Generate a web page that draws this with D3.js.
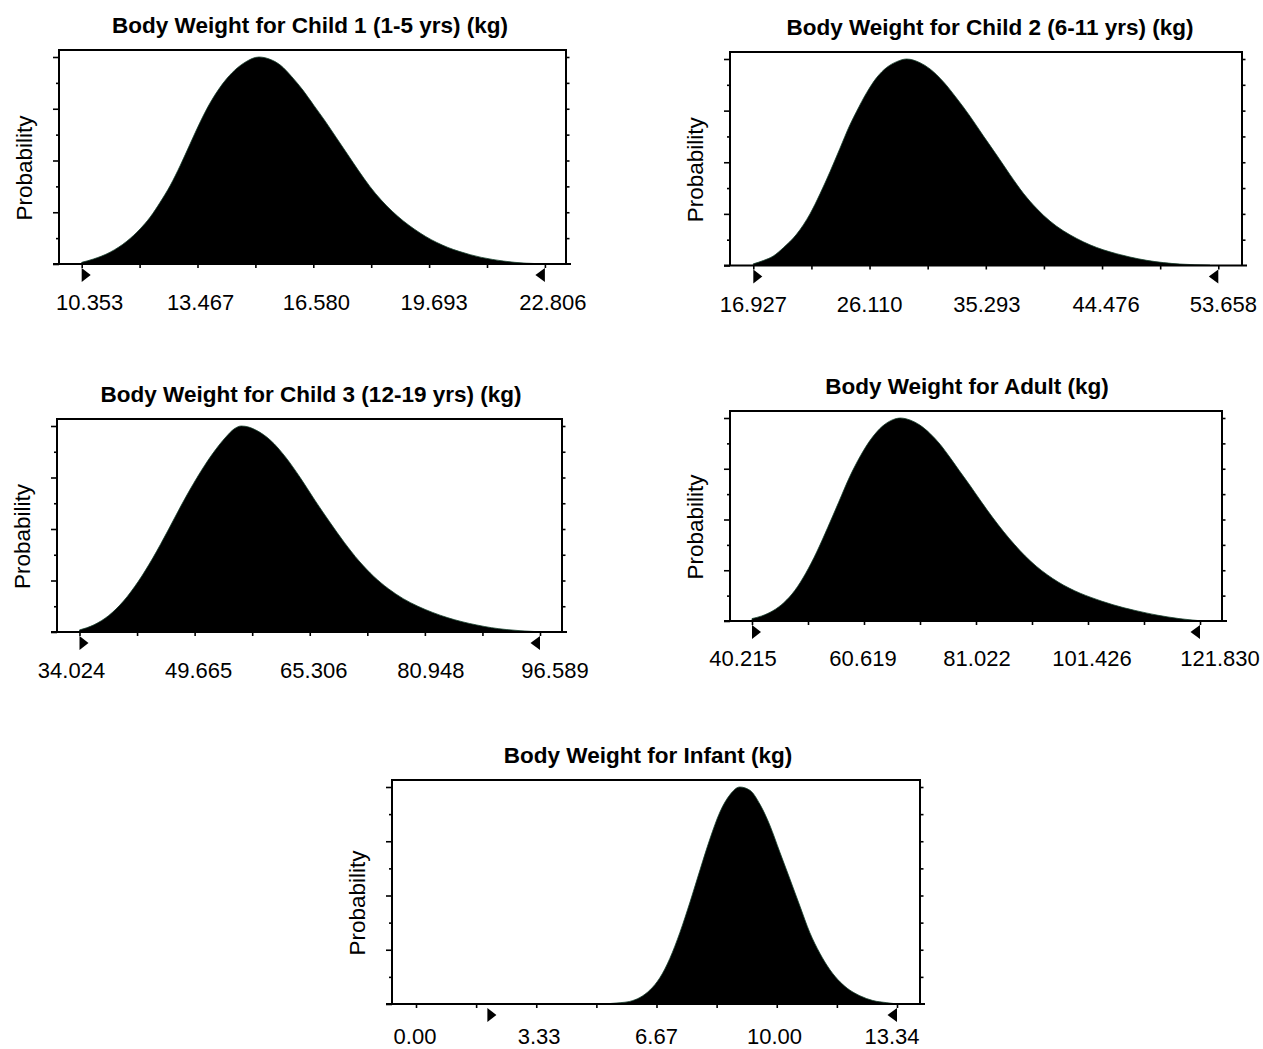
<!DOCTYPE html>
<html><head><meta charset="utf-8">
<script src="https://cdn.jsdelivr.net/npm/d3@7"></script>
<style>
body{margin:0;background:#fff}
svg{display:block}
text{font-family:"Liberation Sans",Arial,Helvetica,sans-serif;fill:#000}
</style>
</head><body>
<svg id="chart" width="1263" height="1049"></svg>
<script>
// ---------- DATA ----------
const titles = [
  "Body Weight for Child 1 (1-5 yrs) (kg)",
  "Body Weight for Child 2 (6-11 yrs) (kg)",
  "Body Weight for Child 3 (12-19 yrs) (kg)",
  "Body Weight for Adult (kg)",
  "Body Weight for Infant (kg)"
];
const yLabel = "Probability";

const child1Ticks = ["10.353","13.467","16.580","19.693","22.806"];
const child2Ticks = ["16.927","26.110","35.293","44.476","53.658"];
const child3Ticks = ["34.024","49.665","65.306","80.948","96.589"];
const adultTicks  = ["40.215","60.619","81.022","101.426","121.830"];
const infantTicks = ["0.00","3.33","6.67","10.00","13.34"];

// certainty range markers [min, max]
const child1Markers = [10.353, 22.806];
const child2Markers = [16.927, 53.658];
const child3Markers = [34.024, 96.589];
const adultMarkers  = [40.215, 121.830];
const infantMarkers = [1.98, 13.34];

// relative probability curves [value, relative probability]
const child1Curve = [[10.353,0.008],[10.667,0.024],[11.116,0.057],[11.566,0.110],[11.926,0.170],[12.196,0.227],[12.465,0.299],[12.735,0.380],[13.005,0.477],[13.274,0.583],[13.544,0.688],[13.724,0.752],[13.994,0.833],[14.264,0.898],[14.533,0.947],[14.758,0.976],[15.118,1.000],[15.4,0.990],[15.7,0.960],[16.0,0.905],[16.3,0.840],[16.6,0.765],[16.9,0.690],[17.2,0.610],[17.5,0.530],[17.8,0.450],[18.1,0.375],[18.4,0.310],[18.7,0.255],[19.0,0.208],[19.3,0.168],[19.6,0.133],[19.9,0.104],[20.2,0.080],[20.5,0.061],[20.8,0.045],[21.1,0.032],[21.4,0.022],[21.7,0.014],[22.0,0.008],[22.3,0.004],[22.7,0.001]];

const child2Curve = [[16.927,0.008],[17.717,0.024],[18.509,0.046],[19.299,0.086],[20.353,0.152],[21.406,0.250],[22.196,0.347],[22.985,0.454],[23.775,0.568],[24.565,0.682],[25.092,0.747],[25.882,0.837],[26.672,0.910],[27.462,0.959],[28.252,0.987],[29.042,1.000],[30.094,0.982],[30.884,0.952],[31.937,0.890],[32.991,0.810],[34.044,0.723],[35.097,0.628],[36.151,0.535],[37.204,0.440],[38.257,0.350],[39.310,0.276],[40.363,0.215],[41.416,0.168],[42.470,0.131],[43.523,0.100],[44.576,0.076],[45.629,0.057],[46.682,0.041],[47.999,0.025],[49.315,0.014],[50.632,0.007],[53.001,0.002]];

const child3Curve = [[34.024,0.010],[36.0,0.035],[38.0,0.080],[40.0,0.150],[42.0,0.245],[44.0,0.360],[46.0,0.490],[48.0,0.625],[50.0,0.750],[52.0,0.860],[54.0,0.950],[55.0,0.985],[56.0,1.000],[57.0,0.995],[58.0,0.980],[60.0,0.930],[62.0,0.850],[64.0,0.750],[66.0,0.640],[68.0,0.535],[70.0,0.435],[72.0,0.345],[74.0,0.270],[76.0,0.210],[78.0,0.162],[80.0,0.125],[82.0,0.095],[84.0,0.070],[86.0,0.050],[88.0,0.034],[90.0,0.021],[92.0,0.012],[94.0,0.006],[96.0,0.002]];

const adultCurve = [[40.215,0.012],[42.0,0.025],[44.0,0.050],[46.0,0.090],[48.0,0.150],[50.0,0.235],[52.0,0.340],[54.0,0.460],[56.0,0.585],[58.0,0.710],[60.0,0.815],[62.0,0.900],[64.0,0.960],[66.0,0.993],[67.2,1.000],[69.0,0.990],[70.8,0.965],[72.6,0.925],[74.5,0.870],[76.3,0.805],[78.0,0.740],[80.0,0.665],[82.0,0.587],[84.0,0.512],[86.0,0.442],[88.0,0.378],[90.0,0.320],[92.0,0.270],[94.0,0.228],[96.0,0.192],[98.0,0.162],[100.0,0.137],[102.0,0.116],[104.0,0.097],[106.0,0.080],[108.0,0.065],[110.0,0.052],[112.0,0.040],[114.0,0.029],[116.0,0.020],[118.0,0.012],[120.0,0.006],[121.6,0.002]];

const infantCurve = [[5.10,0.000],[5.66,0.006],[5.93,0.012],[6.21,0.030],[6.49,0.065],[6.76,0.120],[7.04,0.210],[7.32,0.330],[7.60,0.470],[7.88,0.620],[8.15,0.760],[8.43,0.885],[8.71,0.965],[8.98,1.000],[9.26,0.985],[9.54,0.920],[9.81,0.825],[10.09,0.700],[10.37,0.576],[10.65,0.450],[10.92,0.330],[11.20,0.234],[11.48,0.158],[11.76,0.102],[12.03,0.064],[12.31,0.038],[12.67,0.016],[13.06,0.006],[13.30,0.001]];

// ---------- LAYOUT ----------
const panels = [
  {title:titles[0], ticks:child1Ticks, markers:child1Markers, curve:child1Curve,
   box:[59,50,566,264], xr:[81.7,544.9], tx:310, ldx:[8,3,3,5,8], lby:46},
  {title:titles[1], ticks:child2Ticks, markers:child2Markers, curve:child2Curve,
   box:[730,52,1242,265.5], xr:[753.3,1218.3], tx:990, ldx:[0,0,1,4,5], lby:46},
  {title:titles[2], ticks:child3Ticks, markers:child3Markers, curve:child3Curve,
   box:[57,419,562,632], xr:[79.5,540], tx:311, ldx:[-8,4,4,6,15], lby:46},
  {title:titles[3], ticks:adultTicks, markers:adultMarkers, curve:adultCurve,
   box:[730,411,1222,621], xr:[752,1200], tx:967, ldx:[-9,-1,1,4,20], lby:45},
  {title:titles[4], ticks:infantTicks, markers:infantMarkers, curve:infantCurve,
   box:[392,780,920,1004], xr:[416,897], tx:648, ldx:[-1,3,0,-2,-5], lby:39.5}
];

const svg = d3.select("#chart");
svg.append("rect").attr("width",1263).attr("height",1049).attr("fill","#fff");

panels.forEach(p => {
  const [L,T,R,B] = p.box;
  const tv = p.ticks.map(Number);
  const x = d3.scaleLinear().domain([tv[0], tv[tv.length-1]]).range(p.xr);
  const y = d3.scaleLinear().domain([0,1]).range([B, T+7]);
  const g = svg.append("g");

  // area
  const area = d3.area().x(d=>x(d[0])).y0(B).y1(d=>y(d[1])).curve(d3.curveMonotoneX);
  g.append("path").datum(p.curve).attr("d",area)
    .attr("fill","#000").attr("stroke","#16402c").attr("stroke-width",0.8);

  // y ticks left (major / minor) and right
  const yMajor = d3.range(0,1.0001,0.25);
  const yMinor = d3.range(0.125,1,0.25);
  const yAll = d3.range(0,1.0001,0.125);
  g.append("g").attr("transform",`translate(${L},0)`)
    .call(d3.axisLeft(y).tickValues(yMajor).tickFormat("").tickSizeInner(6).tickSizeOuter(0))
    .call(a=>{a.select(".domain").remove(); a.selectAll("line").attr("stroke-width",1.6);});
  g.append("g").attr("transform",`translate(${L},0)`)
    .call(d3.axisLeft(y).tickValues(yMinor).tickFormat("").tickSizeInner(3).tickSizeOuter(0))
    .call(a=>{a.select(".domain").remove(); a.selectAll("line").attr("stroke-width",1.6);});
  g.append("g").attr("transform",`translate(${R},0)`)
    .call(d3.axisRight(y).tickValues(yAll.slice(1)).tickFormat("").tickSizeInner(3.5).tickSizeOuter(0))
    .call(a=>{a.select(".domain").remove(); a.selectAll("line").attr("stroke-width",1.6);});

  // x ticks (majors and minors, same length)
  const step = (tv[tv.length-1]-tv[0])/(tv.length-1);
  const xAll = d3.range(0, (tv.length-1)*2+1).map(i => tv[0] + i*step/2);
  g.append("g").attr("transform",`translate(0,${B})`)
    .call(d3.axisBottom(x).tickValues(xAll).tickFormat("").tickSizeInner(4).tickSizeOuter(0))
    .call(a=>{a.select(".domain").remove(); a.selectAll("line").attr("stroke-width",1.6);});

  // box
  g.append("path")
    .attr("d",`M${L},${B}V${T}H${R}V${B}`)
    .attr("fill","none").attr("stroke","#000").attr("stroke-width",2);
  g.append("line").attr("x1",L-6).attr("x2",R+5).attr("y1",B).attr("y2",B)
    .attr("stroke","#000").attr("stroke-width",2);

  // tick labels
  g.selectAll("text.xl").data(p.ticks).enter().append("text")
    .attr("class","xl")
    .attr("x",(d,i)=>x(tv[i]) + p.ldx[i])
    .attr("y",B+p.lby)
    .attr("text-anchor","middle")
    .attr("font-size",22)
    .text(d=>d);

  // markers
  const [mn,mx] = p.markers;
  g.append("path")
    .attr("d",`M${x(mn)},${B+4}L${x(mn)+9},${B+11}L${x(mn)},${B+18}Z`)
    .attr("fill","#000");
  g.append("path")
    .attr("d",`M${x(mx)},${B+4}L${x(mx)-9.5},${B+11}L${x(mx)},${B+18}Z`)
    .attr("fill","#000");

  // title
  g.append("text").attr("x",p.tx).attr("y",T-17)
    .attr("text-anchor","middle").attr("font-size",22.5).attr("font-weight","bold")
    .text(p.title);

  // y label
  g.append("text")
    .attr("transform",`translate(${L-27},${(T+B)/2+11}) rotate(-90)`)
    .attr("text-anchor","middle").attr("font-size",22.5)
    .text(yLabel);
});
</script>
</body></html>
